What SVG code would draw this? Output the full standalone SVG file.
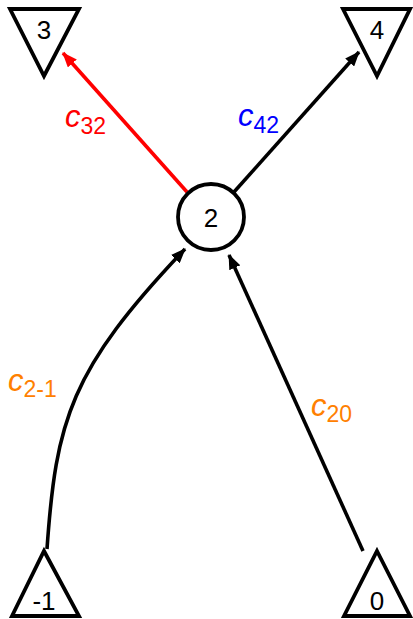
<svg xmlns="http://www.w3.org/2000/svg" width="413" height="619" viewBox="0 0 413 619">
<defs>
<marker id="ah" markerUnits="userSpaceOnUse" markerWidth="16" markerHeight="12" refX="14" refY="6" orient="auto"><path d="M0,0 L15,6 L0,12 Z" fill="#000"/></marker>
<marker id="ahr" markerUnits="userSpaceOnUse" markerWidth="16" markerHeight="12" refX="14" refY="6" orient="auto"><path d="M0,0 L15,6 L0,12 Z" fill="#f00"/></marker>
<style>
.n{fill:#fff;stroke:#000;stroke-width:3.8;stroke-linejoin:miter}
.t{font-family:"Liberation Sans",Arial,sans-serif;font-size:26px;text-anchor:middle;fill:#000}
.e{fill:none;stroke:#000;stroke-width:3.6}
.l{font-family:"Liberation Sans",Arial,sans-serif;font-size:31px;font-style:italic}
.s{font-size:23px;font-style:normal}
</style>
</defs>
<g id="edges">
<path class="e" d="M187,192 L63,53" style="stroke:#f00" marker-end="url(#ahr)"/>
<path class="e" d="M234,192 L359,52" marker-end="url(#ah)"/>
<path class="e" d="M363,551 L229,255" marker-end="url(#ah)"/>
<path class="e" d="M47,549 C56,420 70,370 185,249" marker-end="url(#ah)"/>
</g>
<g id="labels">
<text class="l" x="65" y="127" fill="#f00">c<tspan class="s" dy="7">32</tspan></text>
<text class="l" x="238" y="126" fill="#00f">c<tspan class="s" dy="7">42</tspan></text>
<text class="l" x="8" y="391" fill="#ff8000">c<tspan class="s" dy="6">2-1</tspan></text>
<text class="l" x="311" y="416" fill="#ff8000">c<tspan class="s" dy="6">20</tspan></text>
</g>
<g id="n3"><path class="n" d="M10,9 L79,9 L44,76 Z"/><text class="t" x="44" y="39">3</text></g>
<g id="n4"><path class="n" d="M343,9 L410,9 L377,76 Z"/><text class="t" x="377" y="39">4</text></g>
<g id="n2"><circle class="n" cx="211" cy="217" r="33"/><text class="t" x="211" y="227">2</text></g>
<g id="nm1"><path class="n" d="M44,551 L79,616 L12,616 Z"/><text class="t" x="44" y="610">-1</text></g>
<g id="n0"><path class="n" d="M377,551 L410,616 L344,616 Z"/><text class="t" x="377" y="610">0</text></g>
</svg>
